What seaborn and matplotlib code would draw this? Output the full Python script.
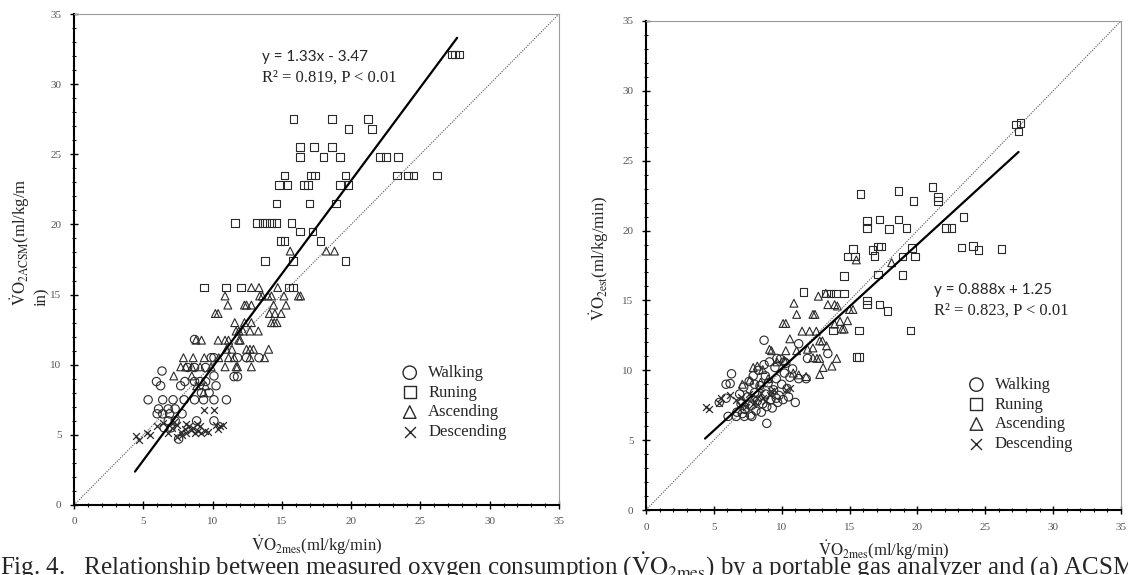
import numpy as np
import pandas as pd
import matplotlib
matplotlib.use("Agg")
import matplotlib.pyplot as plt
import seaborn as sns

# ---------------- data ----------------
# Left panel: ACSM estimate vs measured
run_x_L = [15.85, 18.6, 21.2, 19.8, 21.5, 16.3, 17.3, 18.6, 16.3, 18.0, 19.2, 22.1, 22.5, 23.4,
           15.2, 17.1, 17.4, 19.6, 23.3, 24.1, 24.5, 26.2, 14.8, 15.4, 16.6, 16.9, 19.2, 19.8,
           14.6, 17.0, 18.9, 11.6, 13.2, 13.6, 13.9, 14.25, 14.6, 15.7, 16.3, 17.2, 14.9, 15.2,
           17.8, 13.8, 15.8, 19.6, 9.4, 10.95, 12.05, 15.5, 15.8, 27.3, 27.5, 27.8]
run_y_L = [27.5, 27.5, 27.5, 26.8, 26.8, 25.5, 25.5, 25.5, 24.8, 24.8, 24.8, 24.8, 24.8, 24.8,
           23.5, 23.5, 23.5, 23.5, 23.5, 23.5, 23.5, 23.5, 22.8, 22.8, 22.8, 22.8, 22.8, 22.8,
           21.5, 21.5, 21.5, 20.1, 20.1, 20.1, 20.1, 20.1, 20.1, 20.1, 19.5, 19.5, 18.8, 18.8,
           18.8, 17.4, 17.4, 17.4, 15.5, 15.5, 15.5, 15.5, 15.5, 32.1, 32.1, 32.1]

asc_x_L = [15.6, 18.2, 18.8, 12.8, 13.35, 14.7,
           10.9, 13.4, 13.6, 14.0, 14.25, 15.15, 16.2, 16.35,
           11.1, 12.3, 12.45, 12.8, 14.4, 15.3,
           10.2, 10.4, 14.1, 14.5, 14.95,
           11.6, 12.3, 12.8, 14.25, 14.45, 14.65,
           11.7, 11.9, 12.2, 12.7, 13.3,
           8.8, 9.2, 10.4, 10.9, 11.15, 11.9, 12.0,
           11.0, 11.4, 12.45, 12.7, 12.95, 14.05,
           7.9, 8.6, 9.4, 10.45, 11.15, 11.55, 12.7, 13.75,
           7.7, 8.07, 8.5, 9.1, 9.9, 10.9, 11.7, 11.8, 12.8,
           7.2, 8.5, 8.85, 9.5, 9.35]
asc_y_L = [18.1, 18.1, 18.1, 15.5, 15.5, 15.5,
           14.9, 14.9, 14.9, 14.9, 14.9, 14.9, 14.9, 14.9,
           14.25, 14.25, 14.25, 14.25, 14.25, 14.25,
           13.65, 13.65, 13.65, 13.65, 13.65,
           13.0, 13.0, 13.0, 13.0, 13.0, 13.0,
           12.4, 12.4, 12.4, 12.4, 12.4,
           11.75, 11.75, 11.75, 11.75, 11.75, 11.75, 11.75,
           11.1, 11.1, 11.1, 11.1, 11.1, 11.1,
           10.5, 10.5, 10.5, 10.5, 10.5, 10.5, 10.5, 10.5,
           9.85, 9.85, 9.85, 9.85, 9.85, 9.85, 9.85, 9.85, 9.85,
           9.2, 9.2, 8.5, 8.5, 8.0]

walk_x_L = [8.7, 11.8, 12.45, 13.35, 9.9, 10.1, 6.35, 5.95, 6.25, 7.7, 8.0, 10.1, 10.25,
            11.55, 11.8, 8.7, 9.1, 9.5, 5.35, 6.4, 7.15, 7.95, 8.7, 9.35, 10.1, 11.0,
            6.1, 6.8, 7.3, 6.0, 6.4, 6.9, 7.8, 6.8, 7.3, 8.85, 10.1, 6.5, 7.0, 7.55,
            9.2, 9.75, 8.2, 8.7, 9.5]
walk_y_L = [11.8, 10.5, 10.5, 10.5, 10.5, 10.5, 9.55, 8.8, 8.5, 8.5, 8.8, 9.2, 8.5,
            9.15, 9.15, 8.8, 8.8, 8.8, 7.5, 7.5, 7.5, 7.5, 7.5, 7.5, 7.5, 7.5,
            6.85, 6.85, 6.85, 6.5, 6.5, 6.5, 6.5, 6.0, 6.0, 6.0, 6.0, 5.5, 5.5, 4.7,
            8.0, 8.0, 9.8, 9.8, 9.8]

desc_x_L = [4.45, 4.7, 5.5, 6.0, 6.4, 6.8, 7.05, 7.4, 7.7, 8.07, 8.3, 8.6, 8.85, 9.1,
            8.7, 8.95, 9.2, 9.45, 9.7, 9.35, 10.1, 10.25, 10.5, 10.75, 10.4,
            7.4, 7.8, 8.07, 8.45, 5.3, 7.2, 8.0]
desc_y_L = [4.95, 4.65, 5.0, 5.6, 5.85, 5.1, 5.5, 5.7, 5.2, 5.8, 5.65, 5.5, 5.8, 5.65,
            5.1, 5.3, 5.1, 5.3, 5.2, 6.75, 6.75, 5.7, 5.6, 5.7, 5.45,
            4.85, 5.0, 5.1, 5.35, 5.1, 5.9, 5.4]

# Right panel: new estimate vs measured
run_x_R = [15.8, 18.6, 21.1, 19.7, 21.5, 21.5, 16.3, 16.3, 17.2, 18.6, 17.9, 19.2, 22.1, 22.5,
           23.4, 15.25, 14.85, 15.4, 16.7, 16.85, 17.1, 17.3, 19.6, 19.8, 18.9, 23.25, 24.1,
           24.5, 26.2, 14.6, 17.1, 18.9, 11.6, 13.25, 13.6, 14.0, 14.6, 16.3, 16.3, 17.2,
           17.8, 13.8, 15.7, 19.5, 15.5, 15.7, 27.25, 27.45, 27.6]
run_y_R = [22.6, 22.85, 23.1, 22.1, 22.4, 22.1, 20.7, 20.2, 20.8, 20.8, 20.1, 20.2, 20.2, 20.2,
           20.95, 18.7, 18.15, 18.15, 18.6, 18.2, 18.85, 18.85, 18.75, 18.15, 18.15, 18.8, 18.9,
           18.6, 18.7, 16.75, 16.85, 16.8, 15.6, 15.5, 15.5, 15.5, 15.5, 15.0, 14.7, 14.7,
           14.25, 12.85, 12.85, 12.85, 10.95, 10.95, 27.6, 27.1, 27.7]

asc_x_R = [15.5, 18.1, 12.7, 13.25, 10.9, 11.1, 12.3, 12.45, 13.4, 13.9, 14.1, 10.1, 10.3,
           10.6, 11.5, 12.05, 12.55, 12.8, 13.9, 14.3, 14.85, 14.45, 14.6, 15.0, 15.25,
           9.1, 9.25, 10.3, 11.1, 11.9, 12.3, 13.3, 13.0, 12.3, 12.6, 12.8, 14.05,
           13.05, 13.7, 12.8, 10.85, 11.25, 11.8, 7.9, 8.2, 8.6, 9.65, 10.2, 7.1, 7.65, 8.45, 9.0]
asc_y_R = [17.9, 17.7, 15.3, 15.5, 14.8, 14.0, 14.0, 14.0, 14.7, 14.7, 14.6, 13.35, 13.35,
           12.25, 12.8, 12.8, 12.8, 12.1, 13.3, 13.5, 13.55, 12.95, 12.95, 14.35, 14.35,
           11.5, 11.4, 11.4, 11.4, 11.5, 11.6, 11.75, 12.1, 10.9, 10.85, 10.85, 10.85,
           10.2, 10.3, 9.7, 9.8, 9.67, 9.55, 10.2, 10.3, 10.05, 10.6, 10.7, 9.0, 9.3, 9.15, 9.4]

walk_x_R = [8.7, 13.4, 6.3, 5.9, 6.2, 11.0, 8.9, 6.05, 6.65, 7.25, 7.8, 5.4, 5.9, 11.25, 11.8,
            11.9, 11.25, 9.65, 10.2,
            6.7, 7.0, 7.3, 7.5, 7.8, 8.0, 8.2, 8.4, 8.6, 8.8, 9.0, 9.2, 9.4, 9.6, 9.8, 10.0,
            10.2, 10.4, 10.6, 10.8, 6.9, 7.2, 7.6, 7.9, 8.3, 8.7, 9.1, 9.5, 9.9, 10.3,
            7.1, 7.7, 8.1, 8.5, 8.9, 9.3, 9.7, 10.1, 10.5, 8.0, 8.8, 9.6]
walk_y_R = [12.15, 11.2, 9.75, 9.0, 9.05, 7.7, 6.2, 6.7, 6.7, 6.7, 6.7, 7.7, 8.0, 9.4, 9.4,
            10.85, 11.9, 10.85, 10.6,
            7.0, 7.6, 7.2, 8.1, 7.5, 8.4, 7.8, 8.9, 7.6, 8.3, 9.1, 7.9, 8.6, 9.4, 8.2, 9.0,
            9.8, 8.7, 9.5, 10.1, 8.3, 8.8, 9.2, 9.6, 10.0, 10.4, 10.6, 10.2, 10.8, 10.5,
            6.9, 6.8, 7.1, 7.0, 7.4, 7.3, 7.7, 7.9, 8.1, 9.0, 9.6, 8.0]

desc_x_R = [4.4, 4.67, 5.4, 5.5, 6.2, 10.3, 10.6, 6.6, 7.0, 7.3, 7.6, 7.9, 8.2, 8.5, 8.8,
            9.1, 9.4, 6.9, 7.4, 8.0, 8.6, 9.2]
desc_y_R = [7.4, 7.2, 7.65, 8.0, 8.25, 8.6, 8.75, 7.9, 8.1, 7.7, 8.3, 7.6, 8.0, 8.4, 7.8,
            8.2, 8.6, 7.5, 7.4, 7.7, 8.0, 8.5]

activities = ["Walking", "Runing", "Ascending", "Descending"]
fit_L = (1.33, -3.47)
fit_R = (0.888, 1.25)
eq_L = ["y = 1.33x - 3.47", "R\u00b2 = 0.819, P < 0.01"]
eq_R = ["y = 0.888x + 1.25", "R\u00b2 = 0.823, P < 0.01"]
axis_max = 35
tick_vals = [0, 5, 10, 15, 20, 25, 30, 35]

xlab = r"$\dot{\mathrm{V}}\mathrm{O}_{\mathrm{2mes}}$(ml/kg/min)"
ylab_L = r"$\dot{\mathrm{V}}\mathrm{O}_{\mathrm{2ACSM}}$(ml/kg/m" + "\nin)"
ylab_R = r"$\dot{\mathrm{V}}\mathrm{O}_{\mathrm{2est}}$(ml/kg/min)"
caption = ("Fig. 4.   Relationship between measured oxygen consumption ("
           r"$\dot{\mathrm{V}}\mathrm{O}_{\mathrm{2mes}}$"
           ") by a portable gas analyzer and (a) ACSM")

# ---------------- style ----------------
sns.set_style("white")
plt.rcParams["font.family"] = ["Liberation Serif", "DejaVu Serif"]
plt.rcParams["mathtext.fontset"] = "stix"

markers = {"Walking": "o", "Runing": "s", "Ascending": "^", "Descending": "x"}
sizes = {"Walking": 36, "Runing": 30, "Ascending": 32, "Descending": 24}
ec = "#2a2a2a"

fig = plt.figure(figsize=(11.28, 5.75), dpi=100)
axL = fig.add_axes([74 / 1128, 1 - 505 / 575, 485 / 1128, 491 / 575])
axR = fig.add_axes([646 / 1128, 1 - 510 / 575, 475 / 1128, 489 / 575])


def make_df(wx, wy, rx, ry, ax_, ay, dx, dy):
    parts = []
    for name, xs, ys in zip(activities, [wx, rx, ax_, dx], [wy, ry, ay, dy]):
        parts.append(pd.DataFrame({"mes": xs, "est": ys, "act": name}))
    return pd.concat(parts, ignore_index=True)


dfL = make_df(walk_x_L, walk_y_L, run_x_L, run_y_L, asc_x_L, asc_y_L, desc_x_L, desc_y_L)
dfR = make_df(walk_x_R, walk_y_R, run_x_R, run_y_R, asc_x_R, asc_y_R, desc_x_R, desc_y_R)


def draw(ax, df, fit, eq, eq_pos, leg_anchor, ylab, ylab_pos):
    ident = np.array([0, axis_max])
    ax.plot(ident, ident, ls=(0, (1, 1.2)), color="#555555", lw=0.8, zorder=1)
    for name in activities:
        sub = df[df["act"] == name]
        if markers[name] == "x":
            sns.scatterplot(data=sub, x="mes", y="est", marker="x", s=sizes[name],
                            color=ec, linewidth=0.9, ax=ax, label=name, zorder=3)
        else:
            sns.scatterplot(data=sub, x="mes", y="est", marker=markers[name], s=sizes[name],
                            facecolor="none", edgecolor=ec, linewidth=0.8, ax=ax,
                            label=name, zorder=3)
    xs = np.array([df["mes"].min() - 0.05, df["mes"].max() - 0.15])
    ax.plot(xs, fit[0] * xs + fit[1], color="black", lw=1.6, zorder=4)

    ax.set_xlim(0, axis_max)
    ax.set_ylim(0, axis_max)
    ax.set_xticks(tick_vals)
    ax.set_yticks(tick_vals)
    ax.set_xticks(np.arange(0, axis_max + 1, 1), minor=True)
    ax.set_yticks(np.arange(0, axis_max + 1, 1), minor=True)
    ax.tick_params(which="major", direction="inout", length=6, width=1.0, color="black",
                   labelsize=8, labelcolor="#555555", pad=6,
                   bottom=True, left=True, top=False, right=False)
    ax.tick_params(which="minor", direction="inout", length=3.5, width=0.8, color="black",
                   bottom=True, left=True, top=False, right=False)
    for s in ["left", "bottom"]:
        ax.spines[s].set_color("black")
        ax.spines[s].set_linewidth(1.5)
    for s in ["top", "right"]:
        ax.spines[s].set_color("#9a9a9a")
        ax.spines[s].set_linewidth(0.8)

    ax.set_xlabel(xlab, fontsize=12, labelpad=5)
    ax.set_ylabel("")
    ax.text(ylab_pos[0], ylab_pos[1], ylab, transform=ax.transAxes, rotation=90,
            ha="center", va="center", multialignment="left", fontsize=12)

    ax.text(eq_pos[0], eq_pos[1], eq[0], fontsize=11, family=["Lato", "DejaVu Sans"],
            ha="left", va="baseline", zorder=5)
    ax.text(eq_pos[0], eq_pos[1] - 1.45, eq[1], fontsize=12, ha="left", va="baseline", zorder=5)

    leg = ax.legend(loc="upper left", bbox_to_anchor=leg_anchor, frameon=False,
                    fontsize=12, markerscale=1.6, handletextpad=0.6, labelspacing=0.22,
                    borderaxespad=0, borderpad=0, handlelength=1.0)
    for h in leg.legend_handles:
        h.set_linewidth(1.0)


draw(axL, dfL, fit_L, eq_L, (13.6, 31.65), (0.675, 0.285), ylab_L, (-0.092, 0.535))
draw(axR, dfR, fit_R, eq_R, (21.25, 15.45), (0.678, 0.272), ylab_R, (-0.099, 0.515))

fig.text(0.0, 1 - 575 / 575, caption, fontsize=18, ha="left", va="baseline")

fig.savefig("out.png", dpi=100)
